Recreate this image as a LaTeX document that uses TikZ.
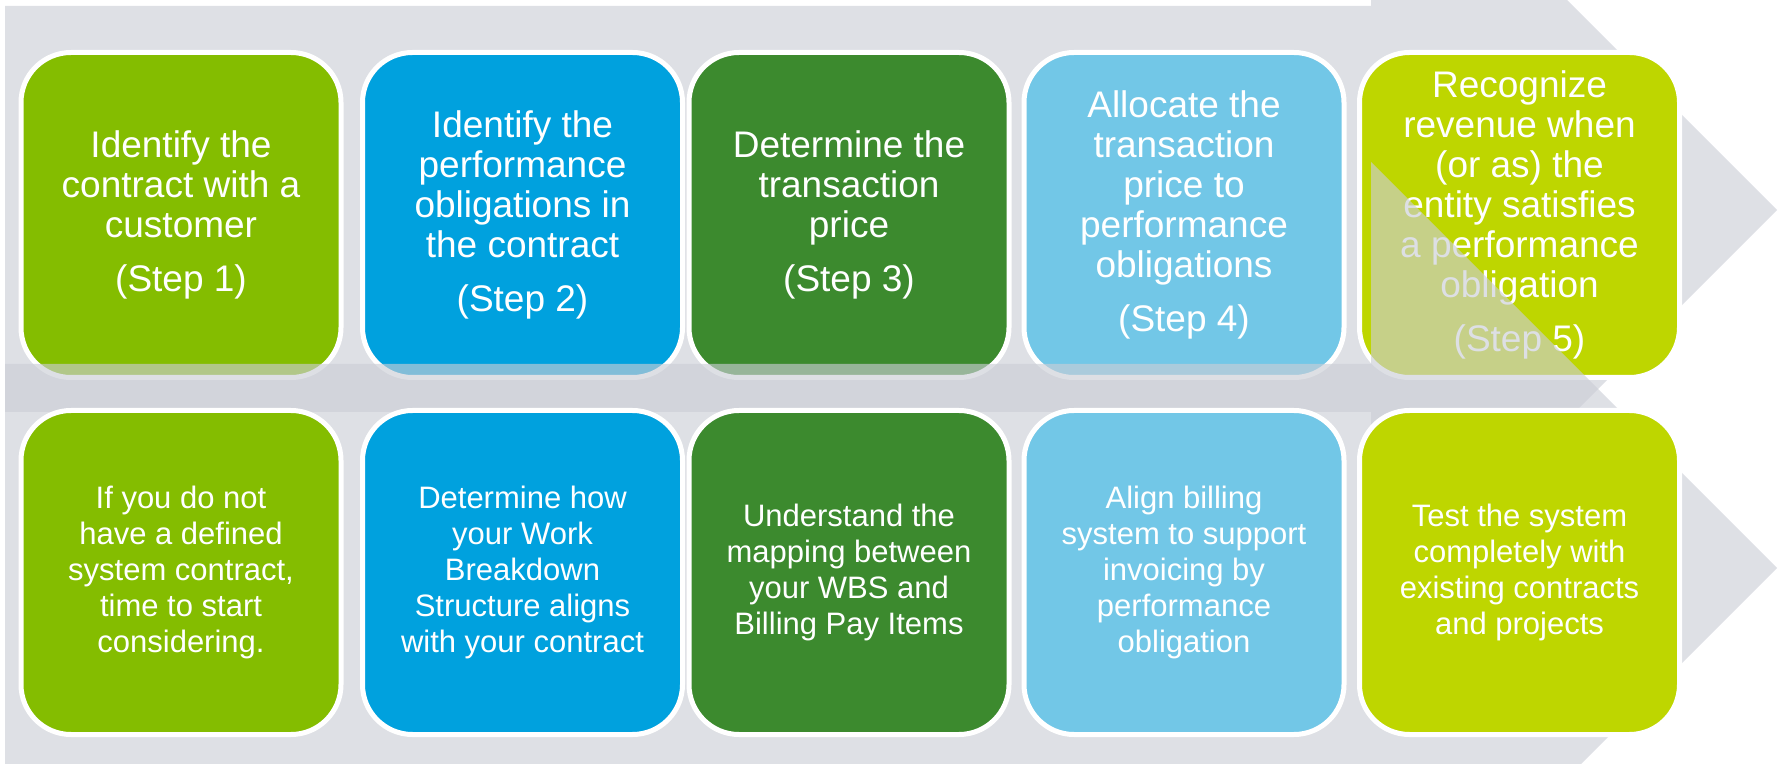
\documentclass[tikz,border=0pt]{standalone}
\usepackage{fontspec}
\setmainfont{Liberation Sans}
\definecolor{bandgray}{RGB}{203,206,214}
\definecolor{stepA}{RGB}{132,189,0}
\definecolor{stepB}{RGB}{0,161,222}
\definecolor{stepC}{RGB}{60,138,46}
\definecolor{stepD}{RGB}{114,199,231}
\definecolor{stepE}{RGB}{190,214,0}
\begin{document}
\begin{tikzpicture}[x=0.5pt,y=-0.5pt,
  band/.style={fill=bandgray,fill opacity=0.64,draw=none},
  stepbox/.style={rectangle,rounded corners=25pt,draw=white,line width=2.5pt,
    minimum width=160pt,inner sep=4pt,text=white,align=center},
  upperbox/.style={stepbox,minimum height=162.5pt,font=\fontsize{18.5}{20}\selectfont},
  lowerbox/.style={stepbox,minimum height=162pt,font=\fontsize{15.5}{18}\selectfont}]
\useasboundingbox (0,0) rectangle (1779,764);
\clip (0,0) rectangle (1779,764);

% upper chevron band
\fill[band] (5,6) -- (1371,6) -- (1371,-196) -- (1777,210) -- (1371,616)
  -- (1371,412) -- (5,412) -- cycle;

% upper row: the five steps
\node[upperbox,fill=stepA] (t1) at (181,215)
  {Identify the\\contract with a\\customer\\[7pt](Step 1)};
\node[upperbox,fill=stepB] (t2) at (522.5,215)
  {Identify the\\performance\\obligations in\\the contract\\[7pt](Step 2)};
\node[upperbox,fill=stepC] (t3) at (849,215)
  {Determine the\\transaction\\price\\[7pt](Step 3)};
\node[upperbox,fill=stepD] (t4) at (1184,215)
  {Allocate the\\transaction\\price to\\performance\\obligations\\[7pt](Step 4)};
\node[upperbox,fill=stepE] (t5) at (1519.5,215)
  {Recognize\\revenue when\\(or as) the\\entity satisfies\\a performance\\obligation\\[7pt](Step 5)};

% lower chevron band, laid over the upper row
\fill[band] (5,364) -- (1371,364) -- (1371,162) -- (1777,568) -- (1371,974)
  -- (1371,770) -- (5,770) -- cycle;

% lower row: system actions
\node[lowerbox,fill=stepA] (b1) at (181,572.5)
  {If you do not\\have a defined\\system contract,\\time to start\\considering.};
\node[lowerbox,fill=stepB] (b2) at (522.5,572.5)
  {Determine how\\your Work\\Breakdown\\Structure aligns\\with your contract};
\node[lowerbox,fill=stepC] (b3) at (849,572.5)
  {Understand the\\mapping between\\your WBS and\\Billing Pay Items};
\node[lowerbox,fill=stepD] (b4) at (1184,572.5)
  {Align billing\\system to support\\invoicing by\\performance\\obligation};
\node[lowerbox,fill=stepE] (b5) at (1519.5,572.5)
  {Test the system\\completely with\\existing contracts\\and projects};
\end{tikzpicture}
\end{document}
